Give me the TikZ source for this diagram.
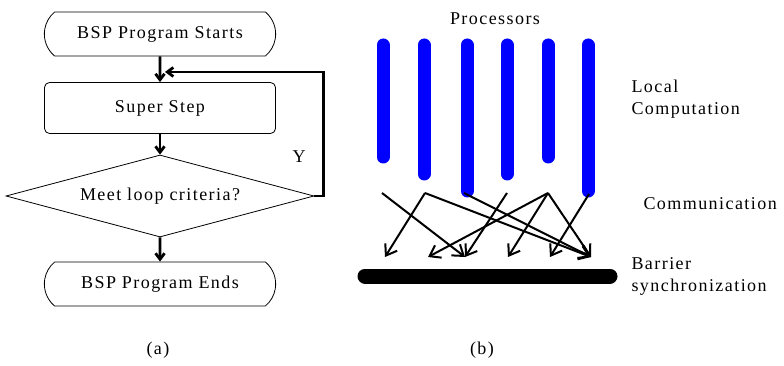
\documentclass[tikz,border=0pt]{standalone}
\usepackage{fontspec}
\setmainfont{Liberation Serif}
\newfontfamily\figfont[LetterSpace=8]{Liberation Serif}
\usetikzlibrary{arrows.meta,positioning,shapes.geometric,shapes.misc}

\begin{document}
\begin{tikzpicture}[
  x=1pt,y=-1pt,
  txt/.style={font=\figfont\fontsize{18}{22}\selectfont},
  terminal/.style={draw,rounded rectangle,rounded rectangle arc length=100,minimum width=238pt,minimum height=44pt,txt,line width=0.8pt},
  process/.style={draw,rectangle,rounded corners=5pt,minimum width=231pt,minimum height=51pt,txt,line width=0.8pt},
  decision/.style={draw,diamond,aspect=3.75,minimum width=308pt,minimum height=82pt,inner sep=0pt,txt,line width=0.8pt},
  flow/.style={-{Straight Barb[length=6pt,width=9pt]},line width=2.8pt},
  proc/.style={blue,line width=13pt,line cap=round},
  barrier/.style={line width=15pt,line cap=round},
  msg/.style={-{Straight Barb[length=10pt,width=14pt]},line width=2pt},
  note/.style={txt,anchor=west,align=left}
]
\useasboundingbox (0,0) rectangle (784,366);

% (a) BSP flow chart
\node[terminal] (start) at (160,34) {BSP Program Starts};
\node[process] (step) at (160,108) {Super Step};
\node[decision] (crit) at (160,196) {Meet loop criteria?};
\node[terminal] (end) at (160,284) {BSP Program Ends};
\coordinate (join) at (165,72);
\node[txt] (yes) at (299,157) {Y};

\draw[flow] (start) -- (step);
\draw[flow] (step) -- (crit);
\draw[flow] (crit) -- (end);
\draw[flow] (crit.east) -- ++(9,0) |- (join);

% (b) BSP execution
\node[txt] (procs) at (495,19) {Processors};
\draw[proc] (383,45) -- (383,157);
\draw[proc] (424,45) -- (424,174);
\draw[proc] (467,45) -- (467,191);
\draw[proc] (507,45) -- (507,174);
\draw[proc] (548,45) -- (548,157);
\draw[proc] (588,45) -- (588,191);
\draw[barrier] (365,276) -- (610,276);

% message sources and targets
\coordinate (s1) at (382,193);
\coordinate (s2) at (425,193);
\coordinate (s3) at (464,193);
\coordinate (s4) at (507,193);
\coordinate (s5) at (548,193);
\coordinate (s6) at (589,194);
\coordinate (t1) at (385,257);
\coordinate (t2) at (428,257);
\coordinate (t3) at (465,257);
\coordinate (t4) at (508,257);
\coordinate (t5) at (550,257);
\coordinate (t6) at (591,257);

\draw[msg] (s1) -- (t3);
\draw[msg] (s2) -- (t1);
\draw[msg] (s2) -- (t6);
\draw[msg] (s3) -- (t6);
\draw[msg] (s4) -- (t3);
\draw[msg] (s5) -- (t2);
\draw[msg] (s5) -- (t4);
\draw[msg] (s5) -- (t6);
\draw[msg] (s6) -- (t5);

% phase labels
\node[note] (local) at (628,99) {Local\\Computation};
\node[note] (comm) at (640,204) {Communication};
\node[note] (sync) at (628,276) {Barrier\\synchronization};

% captions
\node[txt] (capa) at (158,350) {(a)};
\node[txt] (capb) at (482,350) {(b)};

\end{tikzpicture}
\end{document}
